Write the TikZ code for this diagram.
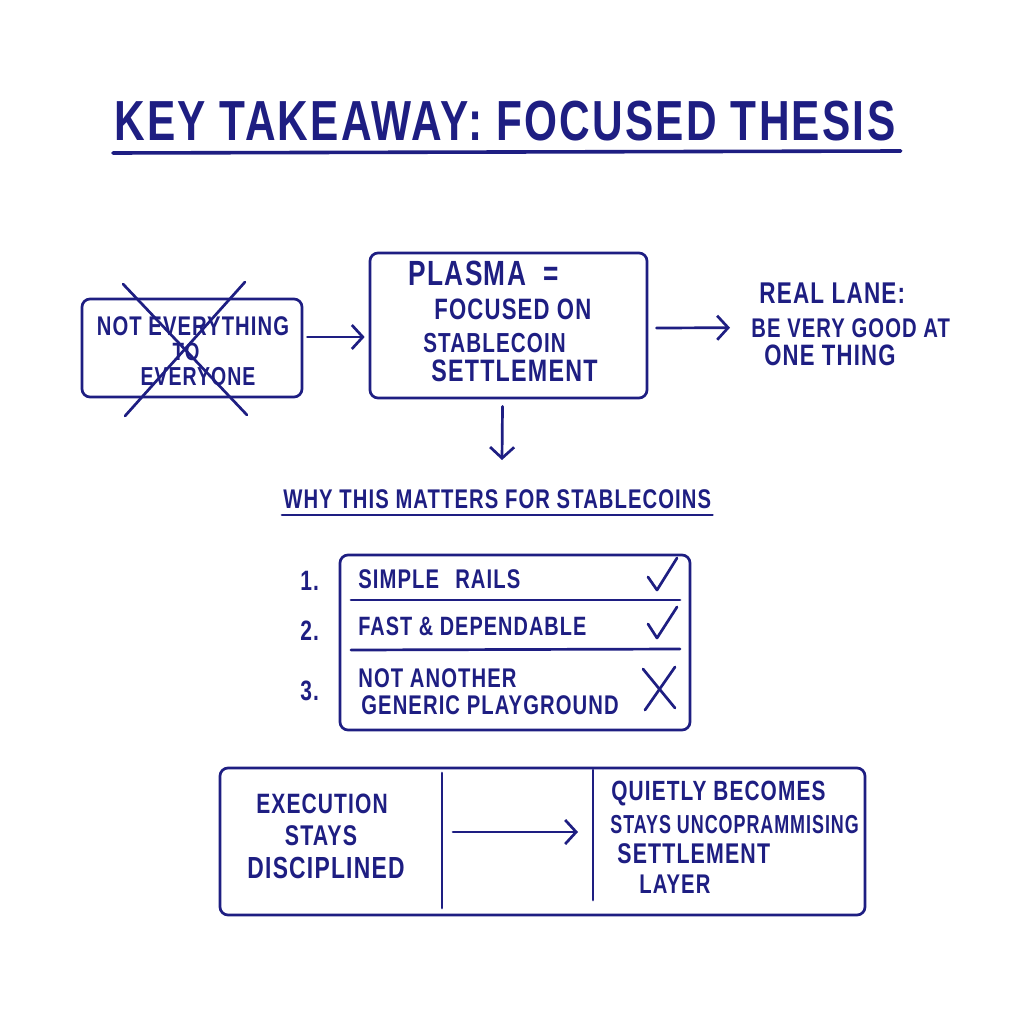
\documentclass[tikz,border=0pt]{standalone}
\usepackage{fontspec}
\setmainfont[FakeStretch=0.75, LetterSpace=4]{Liberation Sans Bold}
\usetikzlibrary{arrows.meta}
\definecolor{ink}{RGB}{30,30,130}
\newcommand{\fs}[1]{\fontsize{#1}{#1}\selectfont}
\begin{document}
\begin{tikzpicture}[x=1pt,y=-1pt, line width=2.7pt, line cap=round, line join=round, draw=ink,
  box/.style={draw=ink, rounded corners=8pt, inner sep=0pt},
  txt/.style={text=ink, anchor=base west, inner sep=0pt},
  ctxt/.style={text=ink, anchor=base, inner sep=0pt},
  arr/.style={draw=ink, -{Straight Barb[length=11pt,width=24pt,line width=2.7pt]}}]
\useasboundingbox[fill=white] (0,0) rectangle (1024,1024);

% title
\node[txt, font=\fs{56.5}] (title) at (113,141) {KEY TAKEAWAY: FOCUSED THESIS};
\draw[line width=3.6pt] ([yshift=-12pt]title.base west) -- ([xshift=4pt,yshift=-10pt]title.base east);

% box 1
\node[box, minimum width=220pt, minimum height=98pt] (b1) at (192,348) {};
\node[ctxt, font=\fs{27}] (t1a) at (193,335) {NOT EVERYTHING};
\node[ctxt, font=\fs{25}] (t1b) at (186,360) {TO};
\node[ctxt, font=\fs{26}] (t1c) at (198,385) {EVERYONE};
\coordinate (xa1) at (123,284); \coordinate (xa2) at (247,415);
\coordinate (xb1) at (245,282); \coordinate (xb2) at (125,416);
\draw (xa1) -- (xa2);
\draw (xb1) -- (xb2);

% box 2
\node[box, minimum width=277pt, minimum height=145pt] (b2) at (508.5,325.5) {};
\node[txt, font=\fs{35}] (p1) at (407,285) {PLASMA\hspace{0.25em} =};
\node[txt, font=\fs{29.5}] (p2) at (433,319) {FOCUSED ON};
\node[txt, font=\fs{27.5}] (p3) at (422,352) {STABLECOIN};
\node[txt, font=\fs{31}] (p4) at (430,381) {SETTLEMENT};

\draw[arr] ([xshift=4pt,yshift=11pt]b1.east) -- ([xshift=-4pt,yshift=-11.5pt]b2.west);

% right text
\node[txt, font=\fs{30}] (l1) at (758,303) {REAL LANE:};
\node[txt, font=\fs{27}] (l2) at (750,337) {BE VERY GOOD AT};
\node[txt, font=\fs{29.5}] (l3) at (763,365) {ONE THING};
\draw[arr] ([xshift=8pt,yshift=-2.5pt]b2.east) -- ([xshift=-20pt]l2.west);

% down arrow
\coordinate (a3e) at (502,460);
\draw[arr] ([xshift=-6pt,yshift=-7pt]b2.south) -- (a3e);

% heading
\node[txt, font=\fs{27}] (why) at (282,508) {WHY THIS MATTERS FOR STABLECOINS};
\draw ([yshift=-7pt]why.base west) -- ([yshift=-7pt]why.base east);

% box 3
\node[box, minimum width=350pt, minimum height=175pt] (b3) at (515,642.5) {};
\draw (351,600) -- (680,600);
\draw (351,650) -- (680,649);
\node[txt, font=\fs{28}] (n1) at (299,590) {1.};
\node[txt, font=\fs{28}] (n2) at (299,640) {2.};
\node[txt, font=\fs{28}] (n3) at (299,700) {3.};
\node[txt, font=\fs{27}] (i1) at (357,588) {SIMPLE\hspace{0.35em} RAILS};
\node[txt, font=\fs{26.5}] (i2) at (357,635) {FAST \& DEPENDABLE};
\node[txt, font=\fs{27}] (i3) at (357,687) {NOT ANOTHER};
\node[txt, font=\fs{27}] (i4) at (360,714) {GENERIC PLAYGROUND};
\draw (648,577) -- (657,590) -- (677,558);
\draw (648,624) -- (657,638) -- (677,607);
\draw (643,669) -- (675,708);
\draw (675,667) -- (645,710);

% box 4
\node[box, minimum width=645pt, minimum height=147pt] (b4) at (542.5,841.5) {};
\draw (442,773) -- (442,908);
\draw (593,770) -- (593,900);
\node[ctxt, font=\fs{28}] (e1) at (322,813) {EXECUTION};
\node[ctxt, font=\fs{28.5}] (e2) at (321,845) {STAYS};
\node[ctxt, font=\fs{30.5}] (e3) at (326,878) {DISCIPLINED};
\node[txt, font=\fs{27.8}] (q1) at (610,800) {QUIETLY BECOMES};
\node[txt, font=\fs{26}] (q2) at (609,833) {\scalebox{0.92}[1]{STAYS UNCOPRAMMISING}};
\node[txt, font=\fs{28.5}] (q3) at (616,863) {SETTLEMENT};
\node[txt, font=\fs{27}] (q4) at (638,893) {LAYER};
\coordinate (a4s) at (453,832);
\coordinate (a4e) at (578,832);
\draw[arr] (a4s) -- (a4e);
\end{tikzpicture}
\end{document}
